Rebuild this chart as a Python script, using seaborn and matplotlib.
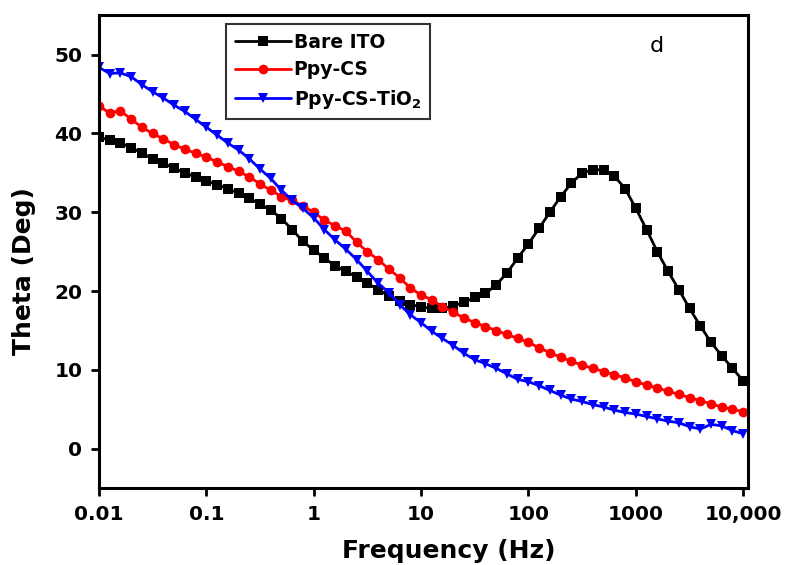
import matplotlib
matplotlib.use("Agg")
import matplotlib.pyplot as plt
import seaborn as sns
import pandas as pd
from matplotlib.ticker import FixedLocator, FixedFormatter, NullLocator

# Frequency points (Hz), 10 per decade
freq = [0.01, 0.0126, 0.0158, 0.02, 0.0251, 0.0316, 0.0398, 0.0501, 0.0631, 0.0794,
        0.1, 0.126, 0.158, 0.2, 0.251, 0.316, 0.398, 0.501, 0.631, 0.794,
        1.0, 1.26, 1.58, 2.0, 2.51, 3.16, 3.98, 5.01, 6.31, 7.94,
        10.0, 12.6, 15.8, 20.0, 25.1, 31.6, 39.8, 50.1, 63.1, 79.4,
        100.0, 126.0, 158.0, 200.0, 251.0, 316.0, 398.0, 501.0, 631.0, 794.0,
        1000.0, 1259.0, 1585.0, 1995.0, 2512.0, 3162.0, 3981.0, 5012.0, 6310.0, 7943.0,
        10000.0]

bare_ito = [39.5, 39.2, 38.8, 38.2, 37.5, 36.8, 36.2, 35.6, 35.0, 34.5,
            34.0, 33.5, 33.0, 32.4, 31.8, 31.0, 30.3, 29.2, 27.8, 26.3,
            25.2, 24.2, 23.2, 22.5, 21.8, 21.0, 20.2, 19.4, 18.8, 18.3,
            18.0, 17.8, 17.8, 18.1, 18.6, 19.2, 19.7, 20.8, 22.3, 24.2,
            26.0, 28.0, 30.0, 32.0, 33.7, 35.0, 35.4, 35.4, 34.6, 33.0,
            30.5, 27.8, 25.0, 22.5, 20.2, 17.8, 15.6, 13.5, 11.8, 10.2,
            8.6]

ppy_cs = [43.5, 42.6, 42.9, 41.8, 40.8, 40.0, 39.3, 38.6, 38.0, 37.5,
          37.0, 36.4, 35.8, 35.2, 34.5, 33.6, 32.8, 32.0, 31.5, 30.8,
          30.0, 29.0, 28.3, 27.6, 26.2, 25.0, 24.0, 22.8, 21.7, 20.4,
          19.5, 18.9, 18.0, 17.3, 16.6, 16.0, 15.5, 15.0, 14.5, 14.0,
          13.5, 12.8, 12.2, 11.6, 11.1, 10.6, 10.2, 9.8, 9.4, 9.0,
          8.5, 8.1, 7.7, 7.3, 6.9, 6.5, 6.1, 5.7, 5.3, 5.0,
          4.7]

ppy_cs_tio2 = [48.4, 47.6, 47.7, 47.2, 46.2, 45.3, 44.5, 43.6, 42.8, 41.8,
               40.8, 39.8, 38.8, 37.9, 36.8, 35.5, 34.3, 32.8, 31.5, 30.5,
               29.3, 27.8, 26.5, 25.3, 24.0, 22.5, 21.0, 19.8, 18.3, 17.0,
               16.0, 14.9, 14.0, 13.1, 12.1, 11.3, 10.8, 10.2, 9.5, 8.8,
               8.5, 8.0, 7.4, 6.8, 6.3, 6.0, 5.6, 5.3, 4.9, 4.6,
               4.4, 4.1, 3.8, 3.5, 3.3, 2.8, 2.5, 3.1, 2.9, 2.3,
               1.9]

series_names = ["Bare ITO", "Ppy-CS", r"Ppy-CS-TiO$_{\mathbf{2}}$"]
series_values = [bare_ito, ppy_cs, ppy_cs_tio2]
colors = ["#000000", "#ff0000", "#0000ff"]
markers = ["s", "o", "v"]

x_ticks = [0.01, 0.1, 1, 10, 100, 1000, 10000]
x_tick_labels = ["0.01", "0.1", "1", "10", "100", "1000", "10,000"]
y_ticks = [0, 10, 20, 30, 40, 50]

sns.set_style("white")
plt.rcParams["font.family"] = ["DejaVu Sans"]
plt.rcParams["font.weight"] = "bold"
plt.rcParams["mathtext.default"] = "bf"
for key in ["text.color", "axes.labelcolor", "xtick.color", "ytick.color"]:
    plt.rcParams[key] = "black"

fig = plt.figure(figsize=(7.85, 5.65), dpi=100)
ax = fig.add_axes([0.126, 0.136, 0.827, 0.837])

for name, vals, c, m in zip(series_names, series_values, colors, markers):
    df = pd.DataFrame({"Frequency": freq, "Theta": vals})
    sns.lineplot(data=df, x="Frequency", y="Theta", ax=ax, color=c, marker=m,
                 markersize=7, markeredgewidth=0, linewidth=2, label=name)

ax.set_xscale("log")
ax.set_xlim(0.01, 11100)
ax.set_ylim(-5, 55)
ax.xaxis.set_major_locator(FixedLocator(x_ticks))
ax.xaxis.set_major_formatter(FixedFormatter(x_tick_labels))
ax.xaxis.set_minor_locator(NullLocator())
ax.set_yticks(y_ticks)

ax.tick_params(axis="both", which="major", direction="out", length=6, width=2,
               labelsize=14.5, bottom=True, left=True, top=False, right=False, pad=6)
for lbl in ax.get_xticklabels() + ax.get_yticklabels():
    lbl.set_fontweight("bold")
for s in ax.spines.values():
    s.set_linewidth(2.2)
    s.set_color("black")

ax.set_xlabel("Frequency (Hz)", fontsize=18, fontweight="bold")
ax.set_ylabel("Theta (Deg)", fontsize=18, fontweight="bold")
ax.xaxis.set_label_coords(0.539, -0.108)
ax.yaxis.set_label_coords(-0.097, 0.459)

ax.text(0.86, 0.935, "d", transform=ax.transAxes, fontsize=16, ha="center",
        va="center", fontweight="normal")

leg = ax.legend(loc="upper left", bbox_to_anchor=(0.196, 0.981), borderaxespad=0,
                frameon=True, fancybox=False, edgecolor="black", fontsize=13.5,
                handlelength=3.0, handletextpad=0.15, labelspacing=0.45, borderpad=0.45)
leg.get_frame().set_linewidth(1.5)
for t in leg.get_texts():
    t.set_fontweight("bold")

fig.savefig("out.png", dpi=100)
